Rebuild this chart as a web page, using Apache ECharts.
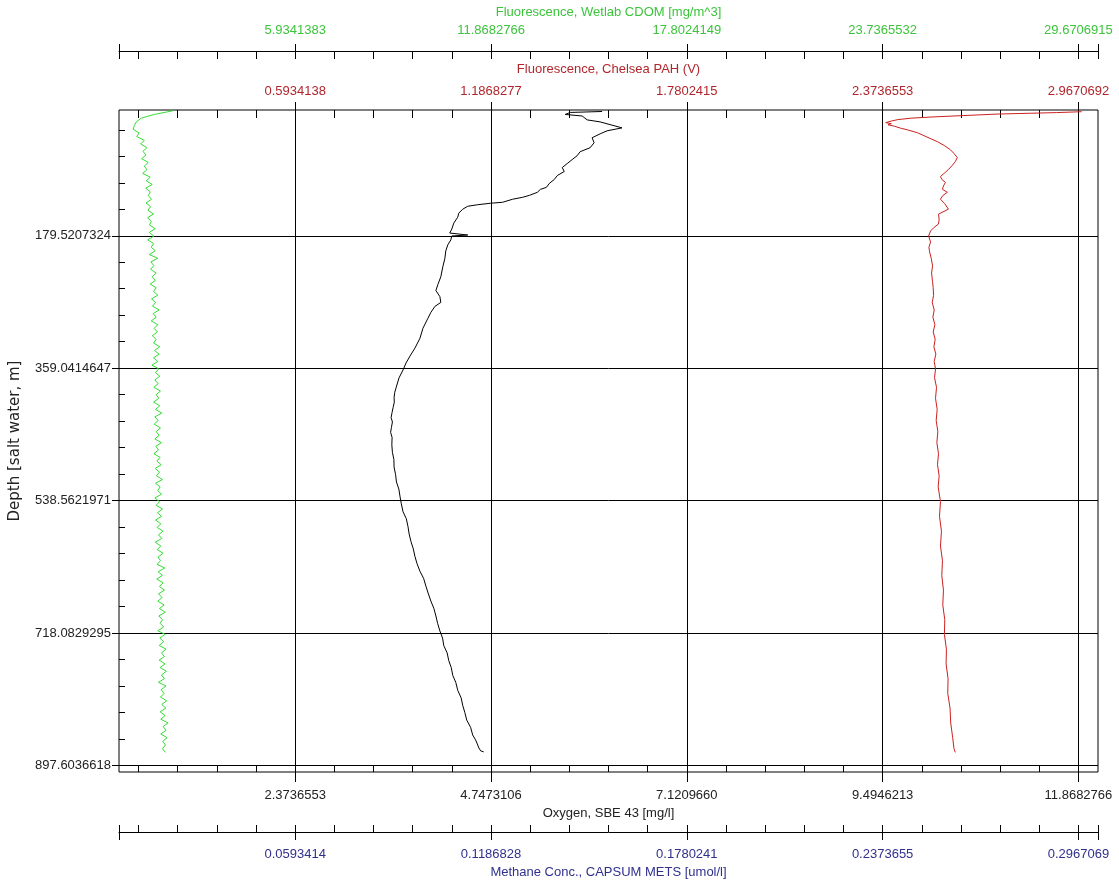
<!DOCTYPE html>
<html><head><meta charset="utf-8">
<script src="https://cdn.jsdelivr.net/npm/echarts@6/dist/echarts.min.js"></script>
<style>html,body{margin:0;padding:0;background:#fff}#c{width:1119px;height:884px}</style>
</head><body><div id="c"></div>
<script>
// ---- tick labels (as printed on the chart) ----
const depthTicks = [179.5207324, 359.0414647, 538.5621971, 718.0829295, 897.6036618];
const cdomTicks  = [5.9341383, 11.8682766, 17.8024149, 23.7365532, 29.6706915];
const pahTicks   = [0.5934138, 1.1868277, 1.7802415, 2.3736553, 2.9670692];
const oxyTicks   = [2.3736553, 4.7473106, 7.1209660, 9.4946213, 11.8682766];
const methTicks  = [0.0593414, 0.1186828, 0.1780241, 0.2373655, 0.2967069];
// ---- axis extents ----
const depthRange = [8.9760366, 906.5796986];
const cdomRange  = [0.5934138, 30.2641053];
const pahRange   = [0.0593414, 3.0264104];
const oxyRange   = [0.2373655, 12.1056420];
const methRange  = [0.0059341, 0.3026411];

// ---- Fluorescence, Wetlab CDOM [mg/m^3] ----
const greenDepth = [10,15,20,25,30,35,40,45,50,55,60,65,70,75,80,85,90,95,100,105,110,115,120,125,130,135,140,145,150,155,160,165,170,175,180,185,190,195,200,205,210,215,220,225,230,235,240,245,250,255,260,265,270,275,280,285,290,295,300,305,310,315,320,325,330,335,340,345,350,355,360,365,370,375,380,385,390,395,400,405,410,415,420,425,430,435,440,445,450,455,460,465,470,475,480,485,490,495,500,505,510,515,520,525,530,535,540,545,550,555,560,565,570,575,580,585,590,595,600,605,610,615,620,625,630,635,640,645,650,655,660,665,670,675,680,685,690,695,700,705,710,715,720,725,730,735,740,745,750,755,760,765,770,775,780,785,790,795,800,805,810,815,820,825,830,835,840,845,850,855,860,865,870,875,880];
const greenCdom = [2.23,1.66,1.27,1.12,1.06,1.02,1.20,1.13,
  1.36,1.25,1.44,1.32,1.41,1.28,1.48,1.36,1.44,1.31,1.54,1.42,1.60,1.40,1.54,1.48,1.58,1.41,1.55,1.47,
  1.64,1.46,1.57,1.52,1.69,1.51,1.65,1.46,1.64,1.57,1.69,1.51,1.77,1.56,1.65,1.55,1.72,1.60,1.69,1.54,
  1.72,1.64,1.77,1.58,1.70,1.61,1.81,1.63,1.72,1.57,1.77,1.66,1.76,1.60,1.72,1.64,1.83,1.67,1.81,1.64,
  1.77,1.59,1.80,1.70,1.83,1.68,1.78,1.65,1.85,1.72,1.80,1.64,1.83,1.70,1.89,1.68,1.78,1.66,1.85,1.72,
  1.81,1.68,1.88,1.71,1.79,1.65,1.84,1.74,1.87,1.69,1.82,1.73,1.91,1.70,1.84,1.77,1.88,1.68,1.82,1.72,
  1.91,1.76,1.88,1.70,1.86,1.75,1.93,1.79,1.89,1.69,1.86,1.75,1.93,1.78,1.85,1.75,1.98,1.78,1.91,1.74,
  1.93,1.82,1.97,1.79,1.90,1.77,1.96,1.82,2.00,1.80,1.91,1.84,1.95,1.77,1.99,1.83,1.95,1.81,2.02,1.88,
  1.97,1.81,1.99,1.84,2.03,1.88,1.97,1.79,2.02,1.87,1.96,1.85,2.04,1.89,2.01,1.84,1.99,1.86,2.08,1.93,2.02,1.86,2.05,1.92,2.00,1.91,2.00];

// ---- Fluorescence, Chelsea PAH (V) ----
const redDepth = [11.3,12.5,14.5,16.5,18.5,20.1,22,24,26.1,27.5,29,31,33.6,36,39.9,45,52,57,62.8,68,73.5,78.9,84,89.7,95,99.1,103,107.2,112,116.6,120.6,125,130,136,143.4,150.2,157,163.6,168,173,179.8,187.9,195,201.3,210,220.2,230,241.7,250,260.5,270,280,290,300,310,320,330,340,350,360,372,385,400,415,430,445,460,475,490,505,520,540,560,580,600,620,640,660,680,700,720,740,760,780,800,820,840,860,875,880];
const redPah = [2.977,2.90,2.72,2.62,2.52,2.459,2.42,2.40,2.383,2.40,2.39,2.41,2.428,2.45,2.48,2.505,2.54,2.56,2.579,2.59,2.600,2.594,2.585,2.573,2.56,2.549,2.553,2.564,2.558,2.555,2.570,2.556,2.549,2.562,2.573,2.543,2.545,2.543,2.530,2.519,2.513,2.519,2.514,2.516,2.521,2.525,2.522,2.525,2.527,2.528,2.524,2.530,2.526,2.532,2.527,2.533,2.529,2.535,2.530,2.534,2.531,2.537,2.534,2.539,2.536,2.541,2.538,2.543,2.540,2.545,2.542,2.549,2.546,2.552,2.549,2.555,2.553,2.558,2.556,2.562,2.561,2.567,2.566,2.572,2.571,2.578,2.580,2.586,2.590,2.594];

// ---- Oxygen, SBE 43 [mg/l] ----
const oxyDepth = [11.0,12.3,15.0,17.1,19.7,22.4,25.1,33.2,37.2,41.3,46.6,53.4,60.1,65.5,70.9,76.2,81.6,87.0,92.4,97.8,103.1,108.5,113.9,116.6,120.6,124.7,127.4,130.0,134.1,135.4,137.4,139.5,143.5,148.9,154.3,162.3,170.4,175.8,178.5,179.8,185.2,191.9,200.0,210.7,221.5,235.0,245.7,253.8,261.9,269.9,275.3,283.4,291.5,304.9,318.4,331.8,342.6,352.0,361.4,372.2,385.6,392,399.1,405,412.5,419,426.0,432,439.4,446,452.9,463,473.1,483,493.2,503,513.4,523,533.6,543,553.8,563,573.9,584,594.1,604,614.3,624,634.5,644,654.6,664,674.8,685,695.0,705,715.2,725,735.3,745,755.5,765,775.7,785,795.9,806,816.1,826,836.2,846,856.4,863,869.9,874,877.9,879.3];
const oxyVal = [6.094,5.708,5.647,5.852,5.828,5.913,6.070,6.335,6.154,6.070,5.973,5.997,5.949,5.828,5.792,5.731,5.671,5.611,5.635,5.551,5.515,5.454,5.418,5.346,5.309,5.213,5.128,5.008,4.887,4.742,4.586,4.465,4.404,4.356,4.344,4.296,4.272,4.247,4.465,4.272,4.260,4.223,4.199,4.187,4.163,4.139,4.103,4.079,4.127,4.139,4.067,4.018,3.982,3.922,3.886,3.825,3.765,3.717,3.681,3.632,3.596,3.580,3.572,3.575,3.560,3.548,3.536,3.552,3.540,3.530,3.548,3.545,3.552,3.570,3.572,3.590,3.601,3.630,3.645,3.660,3.681,3.720,3.741,3.755,3.777,3.805,3.825,3.850,3.886,3.930,3.958,3.985,4.018,4.055,4.079,4.100,4.127,4.160,4.175,4.215,4.235,4.265,4.284,4.320,4.344,4.385,4.404,4.430,4.453,4.500,4.525,4.560,4.586,4.600,4.622,4.658];

const FONT = '"Liberation Sans", Arial, sans-serif';
const GREEN = '#3cc43c', RED = '#b1262c', BLUE = '#30308f', INK = '#222';

function minorsOf(ticks) { const s = ticks[0]; const out = []; for (let k = 1; k <= 25; k++) out.push(k * s / 5); return out; }

function mainAxis(o) {
  return {
    type: 'value', position: o.pos, offset: o.offset || 0, inverse: !!o.inverse,
    min: o.range[0], max: o.range[1],
    axisLine: { show: !!o.line, onZero: false, lineStyle: { color: '#000', width: 1 } },
    axisTick: { show: true, inside: false, length: o.tickLen, customValues: o.tickVals, lineStyle: { color: '#000', width: 1 } },
    axisLabel: { show: true, customValues: o.ticks, margin: o.margin, color: o.color, fontSize: 13, fontFamily: FONT, formatter: v => Number(v).toFixed(7) },
    splitLine: { show: !!o.split, lineStyle: { color: '#000', width: 1 } },
    name: o.name, nameLocation: 'middle', nameGap: o.nameGap,
    nameTextStyle: { color: o.color, fontSize: o.nameSize || 13, fontFamily: o.nameFont || FONT }
  };
}
function helperAxis(o) {
  return {
    type: 'value', position: o.pos, offset: o.offset || 0, inverse: !!o.inverse,
    min: o.range[0], max: o.range[1],
    axisLine: { show: false, onZero: false },
    axisTick: { show: true, inside: true, length: o.len, customValues: o.vals, lineStyle: { color: '#000', width: 1 } },
    axisLabel: { show: false }, splitLine: { show: false }
  };
}

const chart = echarts.init(document.getElementById('c'), null, { renderer: 'canvas' });
chart.setOption({
  animation: false,
  backgroundColor: '#fff',
  grid: { left: 115, top: 110, width: 983, height: 667, show: true, borderColor: '#000', borderWidth: 1, backgroundColor: 'transparent' },
  xAxis: [
    mainAxis({ pos: 'top', offset: 59, range: cdomRange, line: true, tickLen: 7, tickVals: cdomTicks.concat(cdomRange), ticks: cdomTicks, margin: 14, color: GREEN, name: 'Fluorescence, Wetlab CDOM [mg/m^3]', nameGap: 31 }),
    helperAxis({ pos: 'top', offset: 59, range: cdomRange, len: 8, vals: minorsOf(cdomTicks).concat(cdomRange) }),
    mainAxis({ pos: 'top', range: pahRange, tickLen: 8, tickVals: pahTicks, ticks: pahTicks, margin: 12, color: RED, name: 'Fluorescence, Chelsea PAH (V)', nameGap: 34 }),
    helperAxis({ pos: 'top', range: pahRange, len: 8, vals: minorsOf(pahTicks) }),
    mainAxis({ pos: 'bottom', range: oxyRange, tickLen: 10, tickVals: oxyTicks, ticks: oxyTicks, margin: 17, color: INK, split: true, name: 'Oxygen, SBE 43 [mg/l]', nameGap: 32 }),
    helperAxis({ pos: 'bottom', range: oxyRange, len: 7, vals: minorsOf(oxyTicks) }),
    mainAxis({ pos: 'bottom', offset: 60, range: methRange, line: true, tickLen: 8, tickVals: methTicks.concat(methRange), ticks: methTicks, margin: 16, color: BLUE, name: 'Methane Conc., CAPSUM METS [umol/l]', nameGap: 34 }),
    helperAxis({ pos: 'bottom', offset: 60, range: methRange, len: 7, vals: minorsOf(methTicks).concat(methRange) })
  ],
  yAxis: [
    mainAxis({ pos: 'left', inverse: true, range: depthRange, tickLen: 7, tickVals: depthTicks, ticks: depthTicks, margin: 8, color: INK, split: true, name: 'Depth [salt water, m]', nameGap: 96, nameSize: 15, nameFont: '"DejaVu Sans", sans-serif' }),
    helperAxis({ pos: 'left', inverse: true, range: depthRange, len: 6, vals: minorsOf(depthTicks) })
  ],
  series: [
    { type: 'line', name: 'CDOM', xAxisIndex: 0, yAxisIndex: 0, symbol: 'none', lineStyle: { color: '#33dd33', width: 1 },
      data: greenDepth.map((d, i) => [greenCdom[i], d]) },
    { type: 'line', name: 'PAH', xAxisIndex: 2, yAxisIndex: 0, symbol: 'none', lineStyle: { color: '#cc2020', width: 1 },
      data: redDepth.map((d, i) => [redPah[i], d]) },
    { type: 'line', name: 'Oxygen', xAxisIndex: 4, yAxisIndex: 0, symbol: 'none', lineStyle: { color: '#000', width: 1 },
      data: oxyDepth.map((d, i) => [oxyVal[i], d]) }
  ]
});
</script>
</body></html>
